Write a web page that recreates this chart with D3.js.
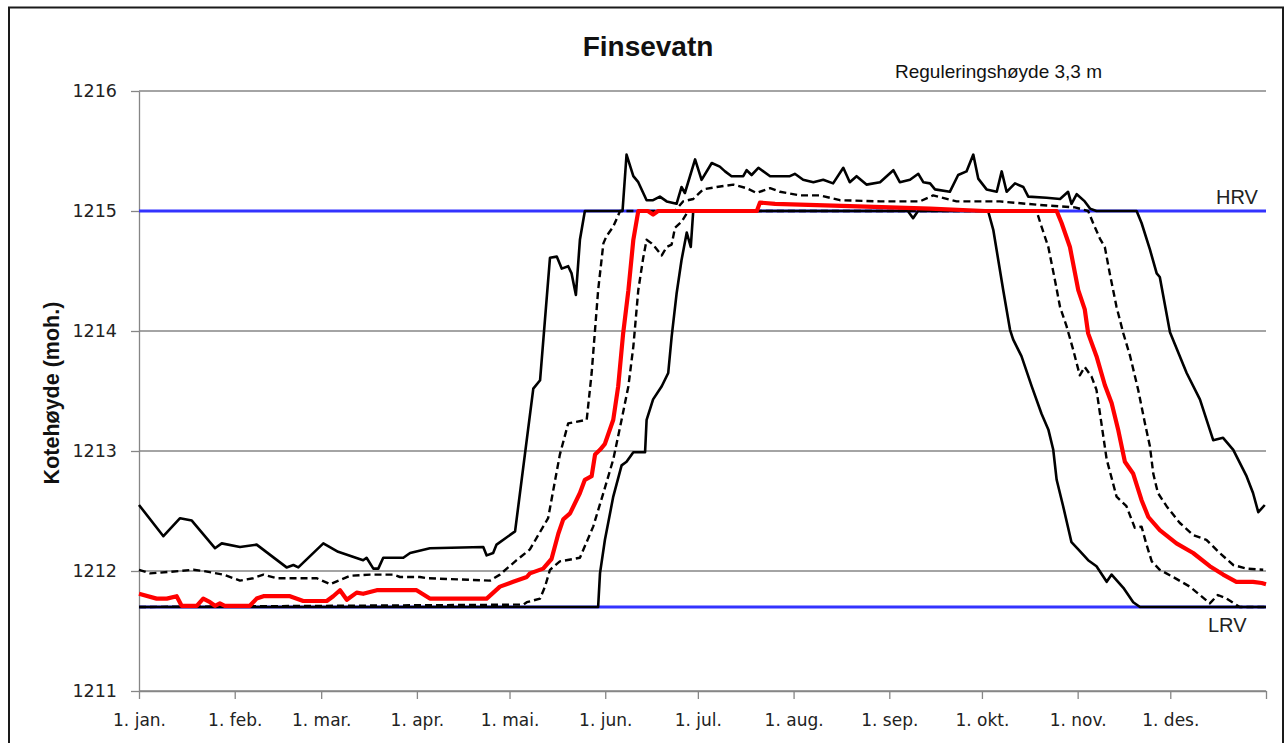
<!DOCTYPE html>
<html>
<head>
<meta charset="utf-8">
<script src="https://cdn.jsdelivr.net/npm/d3@7"></script>
<style>
  html, body { margin: 0; padding: 0; background: #fff; }
  svg { display: block; }
</style>
</head>
<body>
<svg id="chart" width="1287" height="743"></svg>
<script>
// ---------- data (day of year from 1. jan., water level in moh.) ----------
const title = "Finsevatn";
const subtitle = "Reguleringshøyde 3,3 m";
const yTitle = "Kotehøyde (moh.)";
const monthLabels = ["1. jan.", "1. feb.", "1. mar.", "1. apr.", "1. mai.", "1. jun.",
                     "1. jul.", "1. aug.", "1. sep.", "1. okt.", "1. nov.", "1. des."];
const monthStartDays = [0, 31, 59, 90, 120, 151, 181, 212, 243, 273, 304, 334, 365];
const yTicks = [1211, 1212, 1213, 1214, 1215, 1216];
const HRV = 1215.0;
const LRV = 1211.7;

const maxSerie = [
  [0,1212.55],[7.9,1212.29],[13.3,1212.44],[17.1,1212.42],[24.6,1212.19],[26.8,1212.23],
  [32.7,1212.20],[38.1,1212.22],[47.8,1212.03],[50.0,1212.05],[51.6,1212.03],[59.7,1212.23],
  [64.5,1212.16],[72.6,1212.09],[73.7,1212.11],[75.9,1212.02],[77.5,1212.02],[79.1,1212.11],
  [85.6,1212.11],[87.8,1212.15],[94.2,1212.19],[111.5,1212.20],[112.6,1212.13],[114.7,1212.15],
  [115.8,1212.22],[121.8,1212.33],[127.7,1213.52],[129.9,1213.59],[133.1,1214.61],[135.3,1214.62],
  [136.9,1214.52],[139.0,1214.54],[140.1,1214.48],[141.5,1214.30],[142.8,1214.76],[144.4,1215.0],
  [156.6,1215.0],[157.9,1215.47],[160.1,1215.29],[161.7,1215.24],[164.4,1215.09],[166.5,1215.09],
  [168.7,1215.12],[170.9,1215.08],[174.1,1215.06],[175.7,1215.20],[176.8,1215.15],[180.1,1215.43],
  [182.2,1215.26],[185.5,1215.40],[188.1,1215.37],[189.8,1215.33],[191.9,1215.29],[195.7,1215.29],
  [196.8,1215.34],[198.4,1215.30],[200.6,1215.36],[204.4,1215.29],[210.8,1215.29],[212.4,1215.31],
  [215.1,1215.26],[218.4,1215.24],[221.6,1215.26],[224.8,1215.23],[228.1,1215.36],[230.2,1215.24],
  [232.4,1215.29],[235.6,1215.22],[240.0,1215.24],[244.3,1215.34],[246.4,1215.24],[249.7,1215.26],
  [252.4,1215.31],[254.0,1215.24],[256.2,1215.23],[257.8,1215.18],[262.6,1215.16],[265.3,1215.30],
  [268.0,1215.33],[270.2,1215.47],[271.8,1215.27],[274.5,1215.18],[277.8,1215.16],[279.4,1215.33],
  [281.0,1215.16],[283.7,1215.23],[286.4,1215.20],[288.0,1215.12],[293.9,1215.11],[298.3,1215.10],
  [300.9,1215.16],[302.0,1215.06],[303.7,1215.14],[306.3,1215.08],[308.0,1215.02],[310.1,1215.0],
  [323.1,1215.0],[324.7,1214.90],[327.4,1214.68],[329.6,1214.48],[330.6,1214.45],[333.9,1213.99],
  [339.3,1213.65],[343.6,1213.43],[347.9,1213.09],[351.1,1213.11],[354.4,1213.01],[358.7,1212.79],
  [360.8,1212.65],[362.5,1212.49],[364.6,1212.55]
];

const minSerie = [
  [0,1211.7],[148.7,1211.7],[149.3,1211.98],[150.9,1212.26],[153.6,1212.62],[156.3,1212.88],
  [157.9,1212.91],[160.1,1212.99],[163.9,1212.99],[164.4,1213.26],[166.5,1213.43],[169.3,1213.54],
  [171.4,1213.65],[172.5,1213.95],[174.1,1214.31],[175.7,1214.59],[177.4,1214.82],[178.7,1214.70],
  [179.5,1215.0],[249.0,1215.0],[250.7,1214.94],[252.3,1215.0],[275.0,1215.0],[276.7,1214.84],
  [278.3,1214.59],[279.9,1214.34],[282.1,1214.01],[283.1,1213.93],[285.8,1213.79],[289.1,1213.54],
  [292.3,1213.31],[294.5,1213.18],[296.1,1213.01],[297.2,1212.76],[299.3,1212.54],[302.0,1212.24],
  [304.2,1212.18],[307.4,1212.09],[310.1,1212.04],[313.4,1211.91],[315.0,1211.97],[318.8,1211.86],
  [322.0,1211.74],[324.2,1211.7],[365,1211.7]
];

const medianSerie = [
  [0,1211.81],[5.7,1211.77],[9.0,1211.77],[12.2,1211.79],[13.8,1211.71],[18.7,1211.71],
  [20.8,1211.77],[23.0,1211.74],[24.6,1211.71],[26.2,1211.73],[27.8,1211.71],[35.9,1211.71],
  [38.1,1211.77],[40.3,1211.79],[48.9,1211.79],[53.2,1211.75],[60.8,1211.75],[62.9,1211.79],
  [65.1,1211.84],[67.3,1211.76],[70.5,1211.82],[72.6,1211.81],[77.0,1211.84],[89.9,1211.84],
  [94.2,1211.77],[112.6,1211.77],[116.9,1211.87],[121.2,1211.91],[125.6,1211.95],[126.6,1211.98],
  [130.9,1212.02],[133.6,1212.10],[135.8,1212.31],[137.4,1212.43],[139.6,1212.48],[142.8,1212.65],
  [144.4,1212.76],[146.6,1212.79],[147.7,1212.97],[149.3,1213.01],[150.9,1213.06],[153.6,1213.26],
  [155.2,1213.54],[156.8,1213.98],[158.5,1214.34],[160.1,1214.76],[161.7,1215.0],[164.8,1215.0],
  [166.5,1214.97],[168.1,1215.0],[200.1,1215.0],[201.1,1215.07],[206.0,1215.06],[230.2,1215.04],
  [256.2,1215.02],[274.0,1215.0],[297.2,1215.0],[298.8,1214.90],[301.5,1214.70],[304.2,1214.34],
  [306.3,1214.18],[307.4,1213.98],[310.1,1213.79],[312.8,1213.55],[315.0,1213.40],[317.1,1213.18],
  [319.3,1212.91],[322.0,1212.81],[324.7,1212.59],[326.9,1212.45],[330.6,1212.34],[336.0,1212.23],
  [341.4,1212.15],[346.8,1212.04],[351.1,1211.97],[355.4,1211.91],[360.8,1211.91],[363.6,1211.90],
  [365,1211.89]
];

const ovreSerie = [
  [0,1212.01],[3.6,1211.98],[13.3,1212.0],[17.6,1212.01],[20.8,1212.0],[27.3,1211.97],
  [32.7,1211.92],[37.0,1211.94],[40.3,1211.97],[44.6,1211.94],[57.5,1211.94],[61.9,1211.89],
  [68.3,1211.96],[74.8,1211.97],[82.4,1211.97],[84.5,1211.95],[91.0,1211.95],[93.2,1211.94],
  [113.7,1211.92],[116.9,1211.97],[119.1,1212.02],[122.3,1212.09],[126.6,1212.18],[132.5,1212.44],
  [136.3,1212.97],[139.0,1213.23],[145.0,1213.26],[146.6,1213.65],[148.7,1214.34],[150.4,1214.73],
  [151.4,1214.79],[153.6,1214.87],[155.8,1215.0],[173.6,1215.0],[176.2,1215.08],[179.5,1215.10],
  [182.7,1215.18],[187.1,1215.20],[192.5,1215.22],[196.8,1215.19],[200.0,1215.15],[204.4,1215.19],
  [207.6,1215.16],[214.1,1215.13],[220.5,1215.13],[227.0,1215.09],[240.0,1215.08],[252.9,1215.08],
  [257.2,1215.13],[264.8,1215.08],[278.8,1215.08],[291.8,1215.05],[303.1,1215.03],[307.4,1215.0],
  [309.0,1214.90],[311.2,1214.77],[312.8,1214.70],[314.4,1214.48],[316.6,1214.20],[318.8,1213.98],
  [321.0,1213.79],[323.6,1213.51],[325.8,1213.23],[327.4,1213.04],[328.5,1212.81],[330.0,1212.65],
  [332.8,1212.54],[337.1,1212.40],[341.4,1212.30],[345.7,1212.26],[350.0,1212.15],[354.4,1212.05],
  [358.7,1212.02],[364.1,1212.01]
];

const nedreSerie = [
  [0,1211.7],[124.5,1211.72],[125.6,1211.74],[129.9,1211.77],[131.5,1211.87],[133.1,1212.01],
  [136.3,1212.08],[142.8,1212.11],[147.1,1212.37],[150.4,1212.65],[153.6,1212.93],[156.3,1213.26],
  [158.5,1213.54],[160.1,1213.87],[161.7,1214.34],[163.3,1214.61],[164.4,1214.76],[166.0,1214.73],
  [167.1,1214.70],[169.3,1214.63],[170.9,1214.70],[172.5,1214.72],[173.6,1214.86],[175.7,1214.91],
  [177.9,1215.0],[290.7,1215.0],[292.3,1214.87],[294.5,1214.70],[296.6,1214.43],[298.3,1214.20],
  [300.4,1214.04],[302.6,1213.84],[304.7,1213.63],[306.3,1213.70],[308.5,1213.62],[310.1,1213.51],
  [311.7,1213.23],[313.4,1212.93],[316.6,1212.62],[319.8,1212.54],[322.5,1212.36],[324.7,1212.37],
  [326.3,1212.22],[328.0,1212.08],[330.6,1212.01],[334.9,1211.95],[340.3,1211.87],[343.6,1211.80],
  [346.8,1211.73],[349.4,1211.80],[352.2,1211.77],[356.5,1211.70],[365,1211.7]
];

// ---------- drawing ----------
const W = 1287, H = 743;
const plot = { left: 139, right: 1266, top: 91, bottom: 691 };
const svg = d3.select("#chart");

const yearStart = Date.UTC(2021, 0, 1);
const dayToDate = d => new Date(yearStart + d * 864e5);

const x = d3.scaleUtc()
  .domain([dayToDate(0), dayToDate(365)])
  .range([plot.left, plot.right]);
const y = d3.scaleLinear()
  .domain([d3.min(yTicks), d3.max(yTicks)])
  .range([plot.bottom, plot.top]);

// outer frame
svg.append("rect").attr("x", 0).attr("y", 0).attr("width", W).attr("height", H).attr("fill", "#fff");
svg.append("rect")
  .attr("x", 9).attr("y", 7.5).attr("width", 1274).attr("height", 800)
  .attr("fill", "none").attr("stroke", "#1a1a1a").attr("stroke-width", 2);

const gridColor = "#868686";
const tickFont = "'DejaVu Sans', Verdana, sans-serif";

// horizontal gridlines
svg.append("g").selectAll("line").data(yTicks).join("line")
  .attr("x1", plot.left).attr("x2", plot.right)
  .attr("y1", d => y(d)).attr("y2", d => y(d))
  .attr("stroke", gridColor).attr("stroke-width", 1.3);

// y axis
const yAxis = svg.append("g")
  .attr("transform", `translate(${plot.left},0)`)
  .call(d3.axisLeft(y).tickValues(yTicks).tickFormat(d3.format("d"))
        .tickSize(8).tickSizeOuter(0).tickPadding(14));
yAxis.select(".domain").attr("stroke", gridColor).attr("stroke-width", 1.3);
yAxis.selectAll(".tick line").attr("stroke", gridColor).attr("stroke-width", 1.3);
yAxis.selectAll(".tick text")
  .attr("font-family", tickFont).attr("font-size", 17.5).attr("fill", "#222");

// x axis
const xTickDates = monthStartDays.map(dayToDate);
const xAxis = svg.append("g")
  .attr("transform", `translate(0,${plot.bottom})`)
  .call(d3.axisBottom(x).tickValues(xTickDates)
        .tickFormat((d, i) => monthLabels[i] || "")
        .tickSize(8).tickSizeOuter(0).tickPadding(15));
xAxis.select(".domain").attr("stroke", gridColor).attr("stroke-width", 1.3);
xAxis.selectAll(".tick line").attr("stroke", gridColor).attr("stroke-width", 1.3);
xAxis.selectAll(".tick text")
  .attr("font-family", tickFont).attr("font-size", 17).attr("fill", "#222");

// HRV / LRV reference lines
const refLines = [HRV, LRV];
svg.append("g").selectAll("line").data(refLines).join("line")
  .attr("x1", plot.left).attr("x2", plot.right)
  .attr("y1", d => y(d)).attr("y2", d => y(d))
  .attr("stroke", "#3333ff").attr("stroke-width", 2.8);

const line = d3.line()
  .x(d => x(dayToDate(d[0])))
  .y(d => y(d[1]));

const series = [
  { data: maxSerie, stroke: "#000", width: 2.6, dash: null },
  { data: minSerie, stroke: "#000", width: 2.6, dash: null },
  { data: nedreSerie, stroke: "#000", width: 2.4, dash: "7,4" },
  { data: ovreSerie, stroke: "#000", width: 2.4, dash: "7,4" },
  { data: medianSerie, stroke: "#ff0000", width: 4.2, dash: null }
];
svg.append("g").selectAll("path").data(series).join("path")
  .attr("d", d => line(d.data))
  .attr("fill", "none")
  .attr("stroke", d => d.stroke)
  .attr("stroke-width", d => d.width)
  .attr("stroke-dasharray", d => d.dash)
  .attr("stroke-linejoin", "round");

// texts
const labelFont = "'Liberation Sans', Arial, sans-serif";
svg.append("text").text(title)
  .attr("x", 648).attr("y", 56).attr("text-anchor", "middle")
  .attr("font-family", labelFont).attr("font-weight", "bold").attr("font-size", 28).attr("fill", "#111");
svg.append("text").text(subtitle)
  .attr("x", 895).attr("y", 78)
  .attr("font-family", labelFont).attr("font-size", 19).attr("fill", "#111");
svg.append("text").text("HRV")
  .attr("x", 1216).attr("y", 204)
  .attr("font-family", labelFont).attr("font-size", 20).attr("fill", "#222");
svg.append("text").text("LRV")
  .attr("x", 1208).attr("y", 632)
  .attr("font-family", labelFont).attr("font-size", 20).attr("fill", "#222");
svg.append("text").text(yTitle)
  .attr("transform", "translate(59,393) rotate(-90)")
  .attr("text-anchor", "middle")
  .attr("font-family", labelFont).attr("font-weight", "bold").attr("font-size", 21.5).attr("fill", "#111");
</script>
</body>
</html>
